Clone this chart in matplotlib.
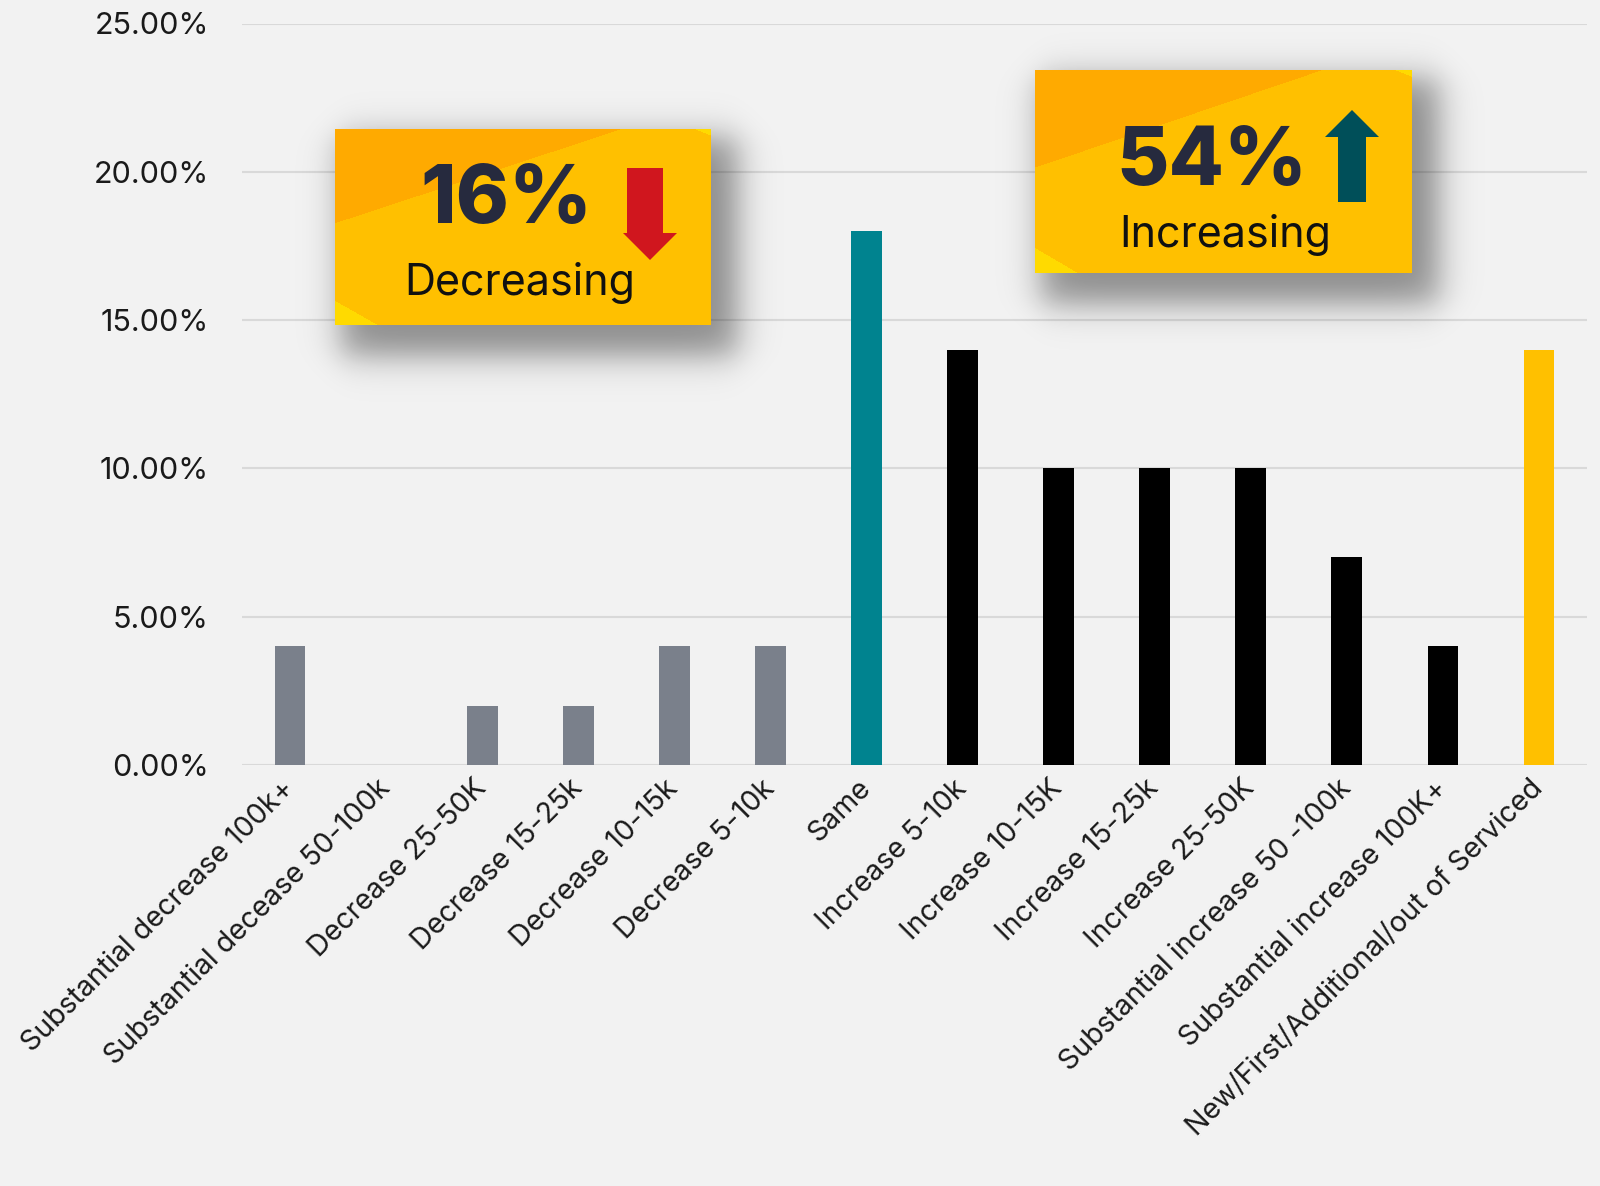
import matplotlib
matplotlib.use('Agg')
import matplotlib.pyplot as plt
import numpy as np
from matplotlib.patches import Polygon
from matplotlib.ticker import FuncFormatter

plt.rcParams['font.family'] = ['Inter', 'DejaVu Sans']

# 数据
categories = ['Substantial decrease 100k+', 'Substantial decease 50-100k', 'Decrease 25-50K',
              'Decrease 15-25k', 'Decrease 10-15k', 'Decrease 5-10k', 'Same',
              'Increase 5-10k', 'Increase 10-15K', 'Increase 15-25k', 'Increase 25-50K',
              'Substantial increase 50 -100k', 'Substantial increase 100K+',
              'New/First/Additional/out of Serviced']
values = [4, 0, 2, 2, 4, 4, 18, 14, 10, 10, 10, 7, 4, 14]
groups = ['down'] * 6 + ['same'] + ['up'] * 6 + ['new']
y_ticks = [0, 5, 10, 15, 20, 25]

callout_big = ['16%', '54%']
callout_small = ['Decreasing', 'Increasing']

group_colors = {'down': '#7a808b', 'same': '#00838f', 'up': '#000000', 'new': '#ffc000'}
BG = '#f2f2f2'

W, H = 1600, 1186
fig = plt.figure(figsize=(W / 100, H / 100), dpi=100, facecolor=BG)
ax = fig.add_axes([242 / W, 1 - 765 / H, (1587 - 242) / W, (765 - 23.5) / H])
ax.set_facecolor(BG)

x = np.arange(len(categories))
ax.bar(x, values, width=0.32, color=[group_colors[g] for g in groups], zorder=3)

ax.set_xlim(-0.5, len(categories) - 0.5)
ax.set_ylim(0, 25)
ax.set_yticks(y_ticks)
ax.yaxis.set_major_formatter(FuncFormatter(lambda v, p: f'{v:.2f}%'))
ax.grid(axis='y', color='#d9d9d9', linewidth=1.5, zorder=0)
for s in ax.spines.values():
    s.set_visible(False)
ax.tick_params(axis='y', length=0, pad=24, labelsize=22, labelcolor='#1a1a1a')
ax.tick_params(axis='x', length=0, pad=14, labelsize=20.5, labelcolor='#1a1a1a')
ax.set_xticks(x)
ax.set_xticklabels(categories, rotation=45, ha='right', va='center', rotation_mode='anchor')

# 叠加层, 像素坐标
ov = fig.add_axes([0, 0, 1, 1], zorder=10)
ov.set_xlim(0, W)
ov.set_ylim(H, 0)
ov.axis('off')
ov.patch.set_alpha(0)


def soft(t, a, b, s):
    return 0.5 * (np.tanh((t - a) / s) - np.tanh((t - b) / s))


def draw_box(x0, y0, x1, y1):
    # 阴影
    m = 80
    gx = np.arange(x0 - m, x1 + m)
    gy = np.arange(y0 - m, y1 + m)
    px = soft(gx, x0 + 6, x1 + 26, 20)
    py = soft(gy, y0 + 8, y1 + 30, 20)
    alpha = np.outer(py, px) * 0.42
    sh = np.zeros((len(gy), len(gx), 4))
    sh[..., 3] = alpha
    ov.imshow(sh, extent=(x0 - m, x1 + m, y1 + m, y0 - m), zorder=1, interpolation='bilinear')

    # 渐变底色
    w, h = int(x1 - x0), int(y1 - y0)
    u = np.linspace(0, 1, w)[None, :]
    v = np.linspace(0, 1, h)[:, None]
    img = np.zeros((h, w, 3))
    base = np.array([255, 192, 0]) / 255
    orange = np.array([255, 170, 0]) / 255
    yellow = np.array([255, 218, 0]) / 255
    img[:] = base
    top_left = v < 0.48 * (1 - u / 0.76)
    img[top_left] = orange
    img[(v > 0.88 + 0.12 * u / 0.11) & (u < 0.11)] = yellow
    img[(v < 0.03 * (u - 0.96) / 0.04) & (u > 0.96)] = yellow
    ov.imshow(img, extent=(x0, x1, y1, y0), zorder=2, interpolation='bilinear')


draw_box(335, 129, 711, 325)
draw_box(1035, 70, 1412, 273)

ov.text(506, 223, callout_big[0], fontsize=58, fontweight=800, color='#262a3e',
        ha='center', va='baseline', zorder=5)
ov.text(520, 295, callout_small[0], fontsize=31, color='#111111', ha='center', va='baseline', zorder=5)
ov.text(1212, 185, callout_big[1], fontsize=58, fontweight=800, color='#262a3e',
        ha='center', va='baseline', zorder=5)
ov.text(1225, 247, callout_small[1], fontsize=31, color='#111111', ha='center', va='baseline', zorder=5)

# 箭头
down = [(627, 168), (663, 168), (663, 233), (677, 233), (650, 260), (623, 233), (627, 233)]
ov.add_patch(Polygon(down, closed=True, facecolor='#d0161e', edgecolor='none', zorder=5))
up = [(1338, 202), (1366, 202), (1366, 137), (1379, 137), (1352, 110), (1325, 137), (1338, 137)]
ov.add_patch(Polygon(up, closed=True, facecolor='#004f59', edgecolor='none', zorder=5))

fig.savefig('out.png', dpi=100, facecolor=BG)
